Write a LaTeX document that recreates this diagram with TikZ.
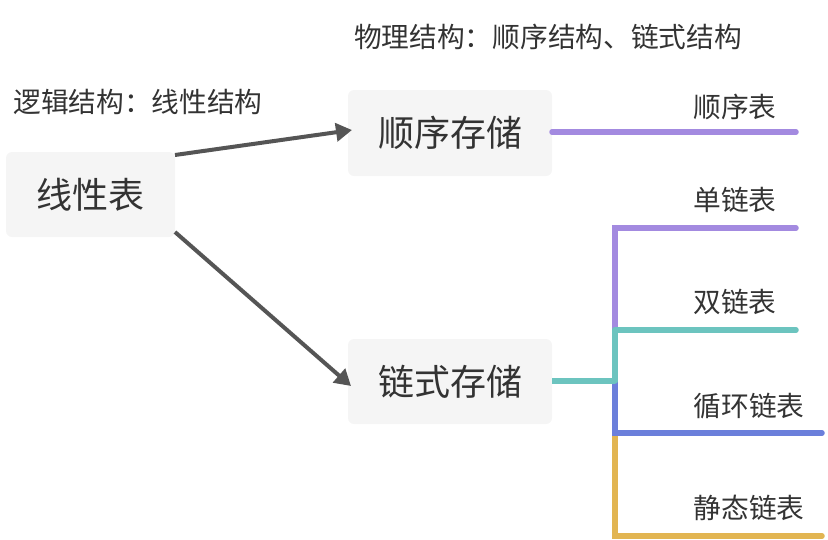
\documentclass[tikz,border=0pt]{standalone}
\usepackage{fontspec}
\setmainfont{Noto Sans CJK SC}
\usetikzlibrary{arrows.meta}
\definecolor{boxfill}{HTML}{F5F5F5}
\definecolor{arrowgray}{HTML}{555555}
\definecolor{cpurple}{HTML}{A38AE0}
\definecolor{cteal}{HTML}{6CC4BF}
\definecolor{cblue}{HTML}{6B7FDB}
\definecolor{cgold}{HTML}{E2B552}
\definecolor{textgray}{HTML}{333333}
\tikzset{
  box/.style={fill=boxfill, rounded corners=6pt, inner sep=0pt},
  bigtxt/.style={font=\fontsize{36}{42}\selectfont, text=textgray},
  smalltxt/.style={font=\fontsize{27.7}{32}\selectfont, text=textgray},
  arr/.style={draw=arrowgray, line width=4pt, -{Triangle[length=16pt,width=18pt]}},
  branch/.style={line width=5.5pt, line cap=round},
}
\begin{document}
\begin{tikzpicture}[x=1pt,y=-1pt]
\useasboundingbox (0,0) rectangle (828,539);
% boxes
\node[box, minimum width=169pt, minimum height=85pt] (lin) at (90.5,194.5) {};
\node[bigtxt] at (lin) {线性表};
\node[box, minimum width=204pt, minimum height=86pt] (seq) at (450,133) {};
\node[bigtxt] at (seq) {顺序存储};
\node[box, minimum width=204pt, minimum height=85pt] (lnk) at (450,381.5) {};
\node[bigtxt] at (lnk) {链式存储};
% labels
\node[smalltxt] (phys) at (548,37) {物理结构：顺序结构、链式结构};
\node[smalltxt] (logi) at (138,102) {逻辑结构：线性结构};
% leaves
\node[smalltxt] (t1) at (735,107) {顺序表};
\node[smalltxt] (t2) at (735,200) {单链表};
\node[smalltxt] (t3) at (735,302) {双链表};
\node[smalltxt] (t4) at (749,406) {循环链表};
\node[smalltxt] (t5) at (749,508) {静态链表};
% arrows
\coordinate (a1s) at (175,155);
\coordinate (a1e) at (352,130);
\coordinate (a2s) at (175,232);
\coordinate (a2e) at (351,386);
\draw[arr] (a1s) -- (a1e);
\draw[arr] (a2s) -- (a2e);
% branch lines
\coordinate (s1) at (552,132);
\coordinate (e1) at (796,132);
\draw[branch, cpurple] (s1) -- (e1);
\coordinate (s2) at (552,381);
\coordinate (j) at (615,381);
\coordinate (e2) at (796,228);
\coordinate (e3) at (796,330);
\coordinate (e4) at (822,433);
\coordinate (e5) at (822,536);
\draw[branch, cpurple] (j) -- (615,228) -- (e2);
\draw[branch, cgold] (j) -- (615,536) -- (e5);
\draw[branch, cblue] (j) -- (615,433) -- (e4);
\draw[branch, cteal] (615,330) -- (j);
\draw[branch, cteal] (615,330) -- (e3);
\draw[branch, cteal, line cap=butt] (s2) -- (j);
\end{tikzpicture}
\end{document}
